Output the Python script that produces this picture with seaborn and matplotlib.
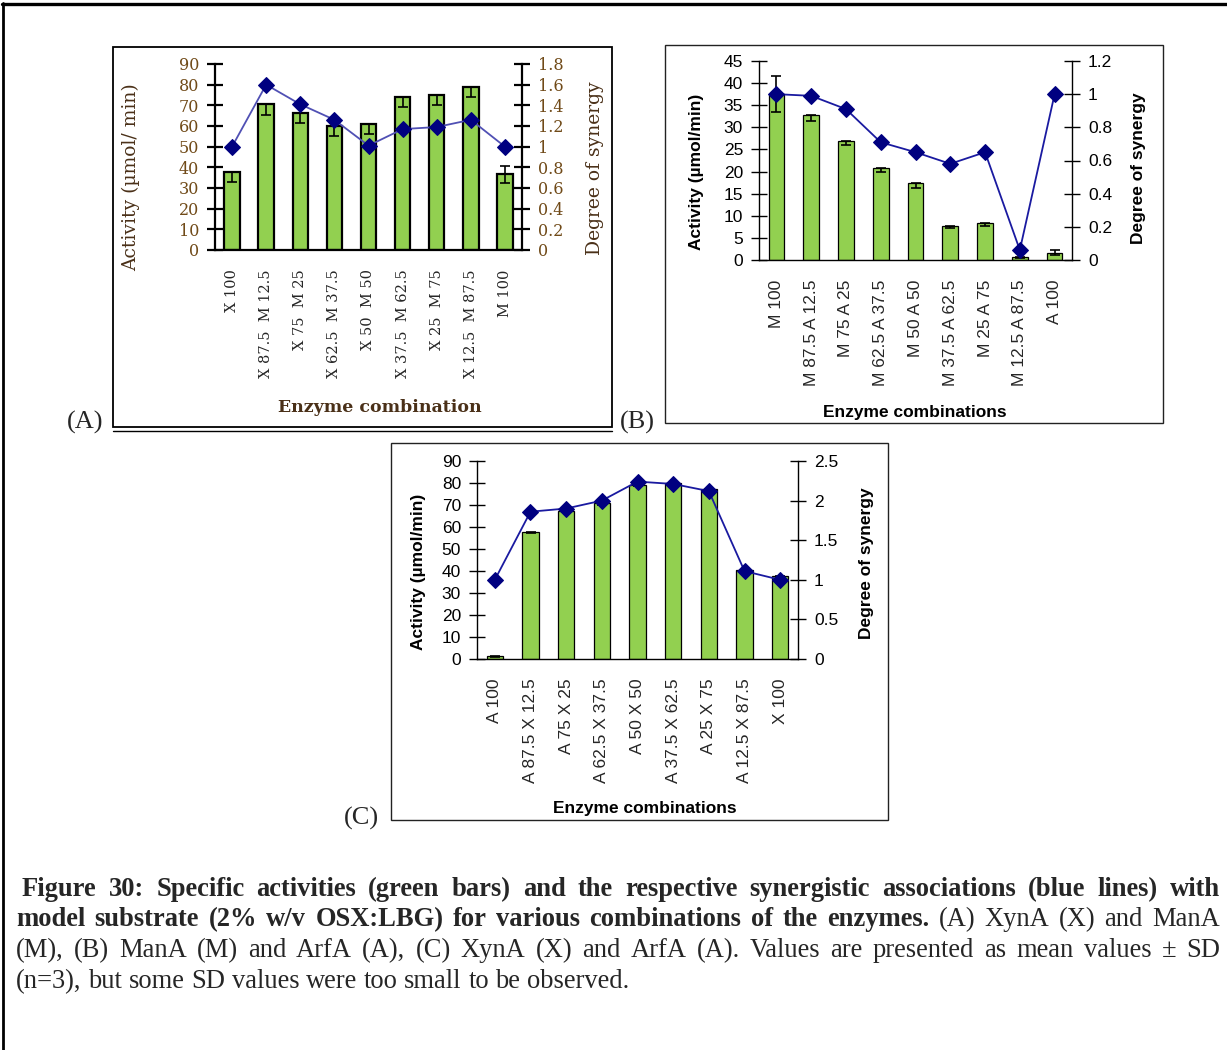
import numpy as np
import matplotlib
matplotlib.use("Agg")
import matplotlib.pyplot as plt
import seaborn as sns
from matplotlib.patches import Rectangle
from matplotlib.lines import Line2D

# ---------------- data ----------------
cats_a = ["X 100", "X 87.5  M 12.5", "X 75  M 25", "X 62.5  M 37.5", "X 50  M 50",
          "X 37.5  M 62.5", "X 25  M 75", "X 12.5  M 87.5", "M 100"]
act_a = [37.6, 70.5, 66.5, 60.0, 61.0, 74.2, 75.0, 78.7, 36.6]
err_lo_a = [4.5, 5.0, 5.0, 5.0, 5.0, 5.0, 5.0, 4.5, 4.0]
err_hi_a = [0.0, 0.0, 0.0, 0.0, 0.0, 0.0, 0.0, 0.0, 4.0]
syn_a = [1.0, 1.60, 1.41, 1.26, 1.01, 1.17, 1.19, 1.26, 1.0]

cats_b = ["M 100", "M 87.5 A 12.5", "M 75 A 25", "M 62.5 A 37.5", "M 50 A 50",
          "M 37.5 A 62.5", "M 25 A 75", "M 12.5 A 87.5", "A 100"]
act_b = [37.5, 32.7, 26.9, 20.7, 17.3, 7.7, 8.4, 0.75, 1.66]
err_lo_b = [4.1, 1.3, 1.0, 0.8, 1.0, 0.5, 0.7, 0.2, 0.5]
err_hi_b = [4.1, 0.0, 0.0, 0.0, 0.0, 0.0, 0.0, 0.0, 0.5]
syn_b = [1.0, 0.99, 0.91, 0.71, 0.65, 0.58, 0.65, 0.06, 1.0]

cats_c = ["A 100", "A 87.5 X 12.5", "A 75 X 25", "A 62.5 X 37.5", "A 50 X 50",
          "A 37.5 X 62.5", "A 25 X 75", "A 12.5 X 87.5", "X 100"]
act_c = [1.2, 57.6, 67.2, 70.7, 79.3, 79.8, 77.2, 40.5, 37.8]
err_lo_c = [0.3, 0.5, 0.5, 0.5, 0.5, 0.4, 0.4, 0.4, 0.5]
err_hi_c = [0.0, 0.0, 0.0, 0.0, 0.0, 0.0, 0.0, 0.0, 0.0]
syn_c = [1.0, 1.86, 1.90, 2.0, 2.24, 2.21, 2.12, 1.11, 1.0]

yticks_act_a = [0, 10, 20, 30, 40, 50, 60, 70, 80, 90]
yticks_syn_a = [0, 0.2, 0.4, 0.6, 0.8, 1.0, 1.2, 1.4, 1.6, 1.8]
yticks_act_b = [0, 5, 10, 15, 20, 25, 30, 35, 40, 45]
yticks_syn_b = [0, 0.2, 0.4, 0.6, 0.8, 1.0, 1.2]
yticks_act_c = [0, 10, 20, 30, 40, 50, 60, 70, 80, 90]
yticks_syn_c = [0, 0.5, 1.0, 1.5, 2.0, 2.5]

caption_lines = [
    [("Figure 30: Specific activities (green bars) and the respective synergistic associations (blue lines) with", "bold")],
    [("model substrate (2% w/v OSX:LBG) for various combinations of the enzymes.", "bold"),
     ("(A) XynA (X) and ManA", "normal")],
    [("(M), (B) ManA (M) and ArfA (A), (C) XynA (X) and ArfA (A). Values are presented as mean values \u00b1 SD", "normal")],
    [("(n=3), but some SD values were too small to be observed.", "normal")],
]

# ---------------- layout helpers ----------------
W, H = 1227, 1050
sns.set_style("white")
plt.rcParams["font.family"] = ["DejaVu Sans"]

fig = plt.figure(figsize=(W / 100, H / 100), dpi=100)
fig.patch.set_facecolor("white")


def fx(px):
    return px / W


def fy(py):
    return 1 - py / H


def rect(x0, y0, x1, y1):
    return [fx(x0), fy(y1), (x1 - x0) / W, (y1 - y0) / H]


GREEN = "#92D050"
NAVY = "#000080"


def panel(ax_px, cats, act, elo, ehi, syn, yt1, yt2, family, tick_size, lab_size,
          label_weight, tick_color, spine_lw, bar_lw, line_color, label_pos, xlabel,
          ylabel1, xlab_weight, label_color, xtick_size, xlab_size):
    ax = fig.add_axes(rect(*ax_px))
    n = len(cats)
    pos = np.arange(n)
    sns.barplot(x=cats, y=act, ax=ax, color=GREEN, saturation=1, edgecolor="black",
                linewidth=bar_lw, width=0.45, errorbar=None, zorder=2)
    ax.errorbar(pos, act, yerr=[elo, ehi], fmt="none", ecolor="black",
                elinewidth=1.2, capsize=3.5, capthick=1.2, zorder=3)
    ax.set_ylim(yt1[0], yt1[-1])
    ax.set_xlim(-0.5, n - 0.5)
    ax.set_yticks(yt1)
    ax.set_yticklabels([f"{v:g}" for v in yt1], family=family, fontsize=tick_size,
                       color=tick_color)
    ax.set_xticks(pos)
    ax.set_xticklabels(cats, rotation=90, family=family, fontsize=xtick_size,
                       va="top", ha="center")
    ax.set_xticks(np.arange(0.5, n - 1, 1.0), minor=True)
    ax.tick_params(axis="x", which="major", length=0, pad=14)
    ax.tick_params(axis="x", which="minor", length=9, width=spine_lw,
                   direction="inout", color="black")
    ax.tick_params(axis="y", which="major", length=11, width=spine_lw,
                   direction="inout", color="black", pad=6)
    for s in ["top", "right"]:
        ax.spines[s].set_visible(False)
    for s in ["left", "bottom"]:
        ax.spines[s].set_linewidth(spine_lw)
        ax.spines[s].set_color("black")
    ax.grid(False)

    ax2 = ax.twinx()
    sns.lineplot(x=pos, y=syn, ax=ax2, color=line_color, linewidth=1.3,
                 marker="D", markersize=8, markerfacecolor=NAVY,
                 markeredgecolor=NAVY, zorder=4)
    ax2.set_ylim(yt2[0], yt2[-1])
    ax2.set_xlim(-0.5, n - 0.5)
    ax2.set_yticks(yt2)
    ax2.set_yticklabels([f"{v:g}" for v in yt2], family=family, fontsize=tick_size,
                        color=tick_color)
    ax2.tick_params(axis="y", which="major", length=11, width=spine_lw,
                    direction="inout", color="black", pad=6)
    for s in ["top", "left", "bottom"]:
        ax2.spines[s].set_visible(False)
    ax2.spines["right"].set_linewidth(spine_lw)
    ax2.spines["right"].set_color("black")
    ax2.grid(False)

    (y1x, y1y), (y2x, y2y), (xlx, xly) = label_pos
    ax.set_ylabel(ylabel1, family=family, fontsize=lab_size, fontweight=label_weight,
                  color=label_color, va="center", ha="center")
    ax.yaxis.set_label_coords(fx(y1x), fy(y1y), transform=fig.transFigure)
    ax2.set_ylabel("Degree of synergy", family=family, fontsize=lab_size,
                   fontweight=label_weight, color=label_color, va="center", ha="center")
    ax2.yaxis.set_label_coords(fx(y2x), fy(y2y), transform=fig.transFigure)
    ax.set_xlabel(xlabel, family=family, fontsize=xlab_size, fontweight=xlab_weight,
                  color=label_color, va="center", ha="center")
    ax.xaxis.set_label_coords(fx(xlx), fy(xly), transform=fig.transFigure)
    return ax, ax2


# ---------------- panels ----------------
panel((215, 64, 522, 250), cats_a, act_a, err_lo_a, err_hi_a, syn_a,
      yticks_act_a, yticks_syn_a, ["DejaVu Serif"], 11.5, 13.5, "normal", "#704a18",
      1.6, 1.6, "#5050B4", ((131, 177), (595, 168), (380, 407)),
      "Enzyme combination", "Activity (\u00b5mol/ min)", "bold", "#4a3018", 10.5, 12.5)

panel((759, 61, 1072, 260), cats_b, act_b, err_lo_b, err_hi_b, syn_b,
      yticks_act_b, yticks_syn_b, ["Liberation Sans"], 12.5, 12.5, "bold", "black",
      1.0, 0.9, "#1a1aA0", ((697, 172), (1138, 168), (915, 412)),
      "Enzyme combinations", "Activity (\u00b5mol/min)", "bold", "black", 12.5, 12.5)

panel((477, 461, 798, 659), cats_c, act_c, err_lo_c, err_hi_c, syn_c,
      yticks_act_c, yticks_syn_c, ["Liberation Sans"], 12.5, 12.5, "bold", "black",
      1.0, 0.9, "#1a1aA0", ((419, 572), (867, 563), (645, 808)),
      "Enzyme combinations", "Activity (\u00b5mol/min)", "bold", "black", 12.5, 12.5)

# ---------------- frames ----------------
def box(x0, y0, x1, y1, lw, color="black"):
    fig.add_artist(Rectangle((fx(x0), fy(y1)), (x1 - x0) / W, (y1 - y0) / H,
                             transform=fig.transFigure, fill=False, lw=lw,
                             edgecolor=color))


box(113, 47, 612, 427, 1.3)
fig.add_artist(Line2D([fx(113), fx(612)], [fy(431), fy(431)], transform=fig.transFigure,
                      color="black", lw=1.0))
box(665, 45, 1163, 423, 1.0, "#222222")
box(391, 443, 888, 820, 1.0, "#222222")

# outer page frame
fig.add_artist(Line2D([fx(2), fx(1227)], [fy(4), fy(4)], transform=fig.transFigure,
                      color="black", lw=2.4))
fig.add_artist(Line2D([fx(3), fx(3)], [fy(3), fy(1050)], transform=fig.transFigure,
                      color="black", lw=2.0))

# panel letters
for txt, px, py in [("(A)", 85, 422), ("(B)", 637, 422), ("(C)", 361, 818)]:
    fig.text(fx(px), fy(py), txt, family=["Liberation Serif"], fontsize=19,
             ha="center", va="center")

# ---------------- caption (justified) ----------------
renderer = fig.canvas.get_renderer()


def text_width(s, weight, size):
    t = fig.text(0, 0, s, family=["Liberation Serif"], fontsize=size, fontweight=weight)
    w = t.get_window_extent(renderer).width
    t.remove()
    return w


# size chosen so that the last (unjustified) line spans its width in the reference
base_size = 15.0
last = caption_lines[-1][0][0]
cap_size = base_size * (633 - 16) / text_width(last, "normal", base_size)

space_w = text_width("x x", "normal", cap_size) - text_width("xx", "normal", cap_size)
line_specs = [(22, 1220, 896, True), (16, 1220, 926, True), (16, 1220, 957, True),
              (16, 1220, 988, False)]
for segs, (x0, x1, base, justify) in zip(caption_lines, line_specs):
    words = []
    for s, wgt in segs:
        for w in s.split():
            words.append((w, wgt))
    widths = [text_width(w, wgt, cap_size) for w, wgt in words]
    if justify and len(words) > 1:
        gap = (x1 - x0 - sum(widths)) / (len(words) - 1)
    else:
        gap = space_w
    x = x0
    for (w, wgt), wd in zip(words, widths):
        fig.text(fx(x), fy(base), w, family=["Liberation Serif"], fontsize=cap_size,
                 fontweight=wgt, ha="left", va="baseline")
        x += wd + gap

fig.savefig("out.png", dpi=100, facecolor="white")
